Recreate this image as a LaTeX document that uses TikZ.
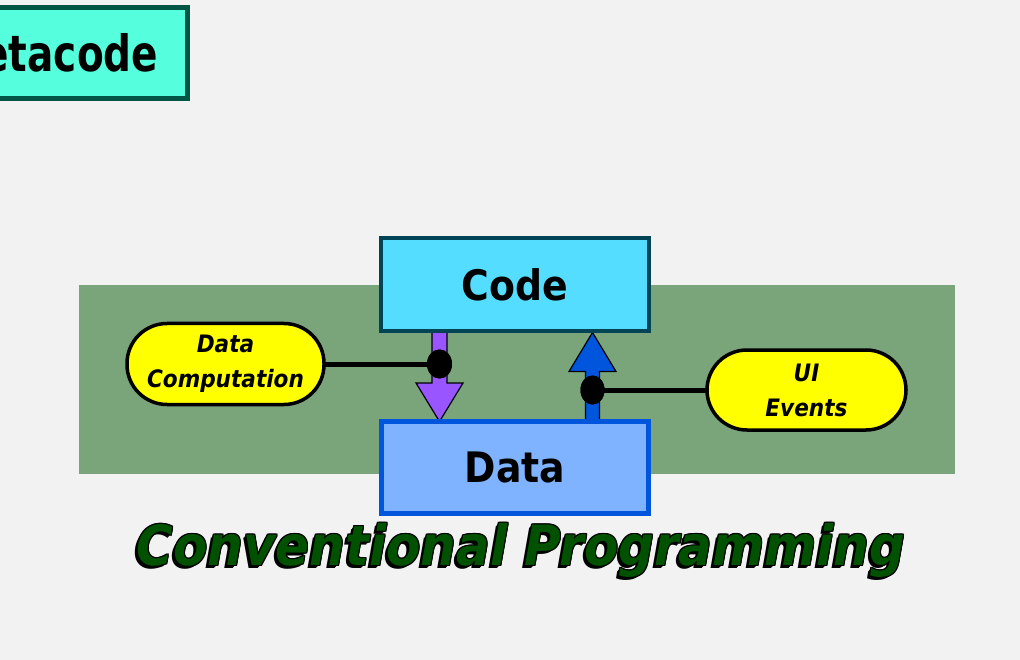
\documentclass[tikz,border=0pt]{standalone}
\usepackage{fontspec}
\usetikzlibrary{calc,shapes.geometric}
\newfontfamily\dv[FakeStretch=0.9,
  BoldFont={DejaVu Sans Bold},
  BoldItalicFont={DejaVu Sans Bold Oblique}]{DejaVu Sans}
\newfontfamily\dvnarrow[FakeStretch=0.78,
  BoldFont={DejaVu Sans Bold}]{DejaVu Sans}
\definecolor{bgc}{HTML}{F2F2F2}
\definecolor{panelc}{HTML}{7AA47A}
\definecolor{metafill}{HTML}{55FFDD}
\definecolor{metaline}{HTML}{005544}
\definecolor{codefill}{HTML}{55DDFF}
\definecolor{codeline}{HTML}{004455}
\definecolor{datafill}{HTML}{80B3FF}
\definecolor{dataline}{HTML}{0055DD}
\definecolor{purplec}{HTML}{9955FF}
\definecolor{bluec}{HTML}{0055DD}
\definecolor{pillc}{HTML}{FFFF00}
\definecolor{titlec}{HTML}{005200}
\pgfdeclarelayer{back}
\pgfdeclarelayer{mid}
\pgfsetlayers{back,mid,main}
\newcommand\convtitle{Conventional Programming}
\tikzset{
  bigbox/.style={draw, rectangle, outer sep=0pt, inner sep=0pt,
    font=\dv\bfseries\fontsize{42}{50}\selectfont},
  pill/.style={draw=black, line width=3.5pt, fill=pillc, rectangle,
    rounded corners=40pt, outer sep=0pt, inner sep=0pt, align=center,
    font=\dv\bfseries\itshape\fontsize{24}{35}\selectfont},
  joint/.style={ellipse, fill=black, inner sep=0pt, outer sep=0pt},
  wire/.style={line width=5pt, black},
  fatarrow/.style={draw=black, line width=1.2pt, line join=miter},
  titlefont/.style={font=\dv\bfseries\itshape\fontsize{55.5}{60}\selectfont,
    inner sep=0pt, anchor=base}
}
\begin{document}
\begin{tikzpicture}[x=1pt,y=-1pt]
\useasboundingbox (0,0) rectangle (1020,660);
\clip (0,0) rectangle (1020,660);

% page colour and the green band behind the programming model
\begin{pgfonlayer}{back}
  \fill[bgc] (0,0) rectangle (1020,660);
  \fill[panelc] (79,285) rectangle (955,474);
\end{pgfonlayer}

% boxes
\node[bigbox, fill=metafill, draw=metaline, line width=5pt,
  minimum width=272pt, minimum height=91pt,
  font=\dvnarrow\bfseries\fontsize{50}{56}\selectfont] (meta) at (51,53) {Metacode};
\node[bigbox, fill=codefill, draw=codeline, line width=4pt,
  minimum width=268pt, minimum height=93pt] (code) at (515,284.5) {Code};
\node[bigbox, fill=datafill, draw=dataline, line width=5pt,
  minimum width=267pt, minimum height=92pt] (data) at (515,467.5) {Data};

% pill nodes
\node[pill, minimum width=197pt, minimum height=81pt] (comp) at (225.5,364) {Data\\Computation};
\node[pill, minimum width=199pt, minimum height=80pt] (ui) at (806.5,390) {UI\\Events};

% junction dots
\node[joint, minimum width=25pt, minimum height=29pt] (dotL) at (439.5,364) {};
\node[joint, minimum width=24pt, minimum height=29pt] (dotR) at (592.5,390) {};

% fat arrows between code and data
\begin{pgfonlayer}{mid}
  \coordinate (ptop) at (dotL |- code.south);
  \coordinate (ptip) at (dotL |- data.north);
  \draw[fatarrow, fill=purplec] (ptop) ++(-7.5,0) -- ++(0,52) -- ++(-16,0)
    -- (ptip) -- ++(23.5,-38.5) -- ++(-16,0) -- ++(0,-52) -- cycle;
  \coordinate (btip) at ($(dotR |- code.south)+(0,1.5)$);
  \draw[fatarrow, fill=bluec] (btip) -- ++(23.5,39) -- ++(-16.5,0) -- ++(0,51)
    -- ++(-14,0) -- ++(0,-51) -- ++(-16.5,0) -- cycle;
\end{pgfonlayer}

% wires from the pills to the arrows
\draw[wire] (comp.east) -- (dotL.center);
\draw[wire] (ui.west) -- (dotR.center);
\node[joint, minimum width=25pt, minimum height=29pt] (dotLtop) at (dotL) {};
\node[joint, minimum width=24pt, minimum height=29pt] (dotRtop) at (dotR) {};

% caption with outline and drop shadow
\foreach \dx/\dy [count=\k] in {-3/3, -2/2, -1/1, 1/0, -1/0, 0/1, 0/-1, 1/1, 1/-1, -1/-1} {
  \node[titlefont, text=black] (shadow\k) at (521+\dx,565+\dy) {\convtitle};
}
\node[titlefont, text=titlec] (title) at (521,565) {\convtitle};
\end{tikzpicture}
\end{document}
